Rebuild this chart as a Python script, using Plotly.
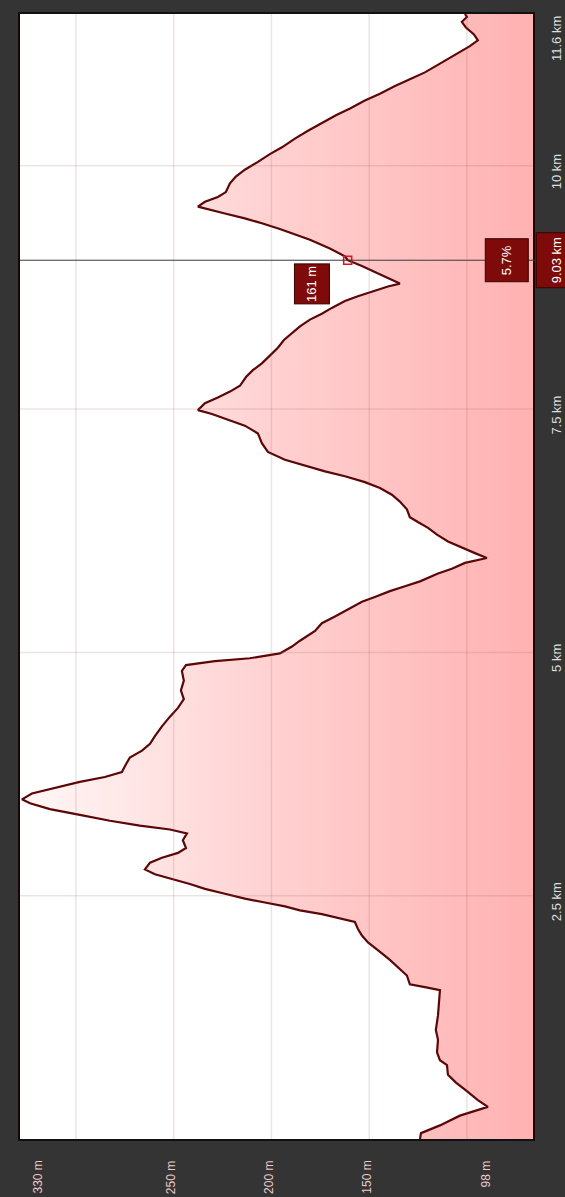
import plotly.graph_objects as go

# Distance along route (km) and elevation (m)
dist_km = [0.00, 0.06, 0.14, 0.24, 0.33, 0.40, 0.50, 0.58, 0.66, 0.76, 0.81, 0.89, 1.02, 1.12, 1.27, 1.43,
           1.53, 1.56, 1.59, 1.68, 1.75, 1.84, 1.90, 1.96, 2.02, 2.09, 2.16, 2.23,
           2.27, 2.31, 2.35, 2.39, 2.43, 2.47, 2.52, 2.57, 2.62, 2.67, 2.72, 2.77, 2.84, 2.89, 2.94, 2.99,
           3.07, 3.14, 3.18, 3.22, 3.27, 3.33, 3.39, 3.45, 3.49, 3.55, 3.61, 3.67, 3.72, 3.77, 3.85, 3.92,
           3.99, 4.06, 4.14, 4.24, 4.34, 4.43, 4.52, 4.61, 4.71, 4.81, 4.87, 4.91, 4.94, 4.99, 5.06, 5.12,
           5.22, 5.30, 5.37, 5.45, 5.52, 5.57, 5.63, 5.68, 5.73, 5.81, 5.86, 5.92, 5.95, 5.97,
           6.02, 6.08, 6.14, 6.21, 6.28, 6.34, 6.39, 6.47, 6.55, 6.62, 6.69, 6.75, 6.81, 6.86, 6.92, 6.98,
           7.06, 7.15, 7.25, 7.33, 7.39, 7.45, 7.49,
           7.56, 7.62, 7.68, 7.74, 7.83, 7.90, 7.97, 8.05, 8.13, 8.21, 8.28, 8.35, 8.42, 8.48, 8.54, 8.61,
           8.66, 8.71, 8.76, 8.79, 8.85, 8.91, 8.97, 9.03, 9.07, 9.15, 9.24, 9.31, 9.35, 9.41, 9.46, 9.51,
           9.55, 9.58,
           9.63, 9.68, 9.73, 9.82, 9.89, 9.96, 10.04, 10.12, 10.19, 10.28, 10.36, 10.44, 10.52, 10.59,
           10.67, 10.74, 10.82, 10.89, 10.96, 11.05, 11.12, 11.18, 11.23, 11.29, 11.35, 11.42, 11.48,
           11.53, 11.56]
elev_m = [124.0, 123.5, 113.8, 103.6, 89.3, 94.4, 100.5, 105.6, 109.7, 110.2, 113.8, 115.3, 114.8, 115.9, 114.8, 114.3,
          113.8, 121.5, 129.2, 130.7, 134.3, 139.4, 143.0, 147.1, 150.6, 153.7, 155.8, 157.3,
          165.0, 174.2, 185.4, 193.1, 203.3, 213.6, 223.8, 234.0, 241.7, 250.9, 259.6, 264.7, 262.1, 256.0, 247.8, 243.7,
          245.3, 243.2, 251.9, 267.3, 282.6, 298.0, 313.3, 323.5, 327.6, 322.5, 310.7, 298.0, 285.2, 276.5, 274.4, 272.4,
          266.2, 262.1, 259.6, 256.0, 251.9, 247.8, 244.8, 246.3, 244.8, 245.8, 243.7, 228.9, 211.0, 195.7, 189.5, 185.4,
          177.7, 174.2, 167.5, 159.8, 153.7, 147.1, 139.4, 131.7, 124.0, 114.8, 107.7, 101.0, 94.4, 89.8,
          95.9, 102.6, 109.7, 115.3, 119.9, 125.1, 129.2, 130.7, 134.3, 138.4, 144.5, 152.2, 162.4, 172.6, 182.9, 193.1,
          201.8, 204.9, 206.9, 213.6, 222.2, 230.4, 237.6,
          234.0, 227.4, 221.2, 216.1, 213.0, 209.5, 204.9, 200.8, 196.7, 193.6, 189.5, 185.4, 180.3, 174.2, 169.1, 162.4,
          155.8, 148.6, 140.4, 134.3, 140.4, 147.1, 153.7, 161.0, 162.4, 170.1, 180.3, 189.5, 195.7, 204.9, 213.6, 223.8,
          232.5, 237.6,
          234.0, 227.4, 223.3, 221.2, 218.2, 213.6, 206.9, 200.8, 194.6, 188.0, 181.3, 174.2, 167.0, 159.8,
          152.2, 144.5, 136.8, 129.2, 121.5, 113.8, 107.7, 102.6, 98.5, 94.4, 96.4, 100.5, 102.6,
          100.0, 101.0]

# Axis ticks / labels
elev_grid = [300, 250, 200, 150, 100]
elev_labels_mid = [250, 200, 150]
elev_max_label, elev_min_label = "330 m", "98 m"
dist_ticks = [2.5, 5, 7.5, 10]
dist_tick_text = ["2.5 km", "5 km", "7.5 km", "10 km"]
dist_total_label = "11.6 km"

# Highlighted point
sel_km = 9.03
sel_elev = 161
sel_grade = "5.7%"

FONT = "Liberation Sans Narrow, Liberation Sans, sans-serif"
X_RANGE = [328.6, 66.2]
Y_RANGE = [0, 11.56]

fig = go.Figure()
fig.add_trace(go.Scatter(
    x=elev_m, y=dist_km, mode="lines",
    line=dict(color="#5c0707", width=2.2),
    fill="tozerox",
    fillgradient=dict(type="horizontal", start=66, stop=330,
                      colorscale=[[0, "rgb(255,178,178)"], [0.5, "rgb(255,208,208)"], [1, "rgb(255,248,248)"]]),
    hoverinfo="skip", showlegend=False,
))
fig.add_trace(go.Scatter(
    x=[sel_elev], y=[sel_km], mode="markers",
    marker=dict(symbol="square-open", size=8, color="#e01515", line=dict(width=1.6)),
    hoverinfo="skip", showlegend=False,
))

shapes = []
for v in elev_grid:
    shapes.append(dict(type="line", xref="x", yref="paper", x0=v, x1=v, y0=0, y1=1,
                       line=dict(color="rgba(150,80,80,0.16)", width=1.5), layer="above"))
for v in dist_ticks:
    shapes.append(dict(type="line", xref="paper", yref="y", x0=0, x1=1, y0=v, y1=v,
                       line=dict(color="rgba(150,80,80,0.16)", width=1.5), layer="above"))
shapes.append(dict(type="line", xref="paper", yref="y", x0=0, x1=1.02, y0=sel_km, y1=sel_km,
                   line=dict(color="#3a3a3a", width=1), layer="above"))

ann = []
lab_font = dict(family=FONT, size=12, color="#ecc9c9")
ann.append(dict(x=0, xref="paper", y=0, yref="paper", text=elev_max_label, textangle=-90,
                showarrow=False, xanchor="center", yanchor="top", xshift=17, yshift=-20, font=lab_font))
for v in elev_labels_mid:
    ann.append(dict(x=v, xref="x", y=0, yref="paper", text=f"{v} m", textangle=-90,
                    showarrow=False, xanchor="center", yanchor="top", xshift=-3, yshift=-20, font=lab_font))
ann.append(dict(x=1, xref="paper", y=0, yref="paper", text=elev_min_label, textangle=-90,
                showarrow=False, xanchor="center", yanchor="top", xshift=-48, yshift=-20, font=lab_font))

km_font = dict(family=FONT, size=13, color="#dedede")
for v, t in zip(dist_ticks, dist_tick_text):
    ann.append(dict(x=1, xref="paper", y=v, yref="y", text=t, textangle=-90, showarrow=False,
                    xanchor="left", yanchor="middle", xshift=14, yshift=-6, font=km_font))
ann.append(dict(x=1, xref="paper", y=1, yref="paper", text=dist_total_label, textangle=-90, showarrow=False,
                xanchor="left", yanchor="top", xshift=14, yshift=0, font=km_font))

box_font = dict(family=FONT, size=13, color="#ffffff")
box_style = dict(textangle=-90, showarrow=False, bgcolor="#7e0a0a", bordercolor="#3a0000",
                 borderwidth=1, borderpad=2, font=box_font, align="center", valign="middle")
ann.append(dict(x=1, xref="paper", y=sel_km, yref="y", text=f"{sel_km:.2f} km",
                xanchor="left", yanchor="middle", xshift=3, width=50, height=36, **box_style))
ann.append(dict(x=1, xref="paper", y=sel_km, yref="y", text=sel_grade,
                xanchor="right", yanchor="middle", xshift=-4, width=38, height=38, **box_style))
ann.append(dict(x=sel_elev, xref="x", y=sel_km, yref="y", text=f"{sel_elev} m",
                xanchor="right", yanchor="top", xshift=-18, yshift=-3, width=35, height=30, **box_style))

fig.update_layout(
    width=565, height=1197,
    margin=dict(l=20, r=32, t=12, b=58),
    paper_bgcolor="#343434",
    plot_bgcolor="#ffffff",
    shapes=shapes, annotations=ann,
    xaxis=dict(range=X_RANGE, showgrid=False, zeroline=False, showticklabels=False, ticks="",
               showline=True, mirror=True, linecolor="#111111", linewidth=2),
    yaxis=dict(range=Y_RANGE, showgrid=False, zeroline=False, showticklabels=False, ticks="",
               showline=True, mirror=True, linecolor="#1a0505", linewidth=2),
)
fig.write_html("out.html", config={"displayModeBar": False},
               post_script="document.body.style.margin='0';document.body.style.background='#343434';")
